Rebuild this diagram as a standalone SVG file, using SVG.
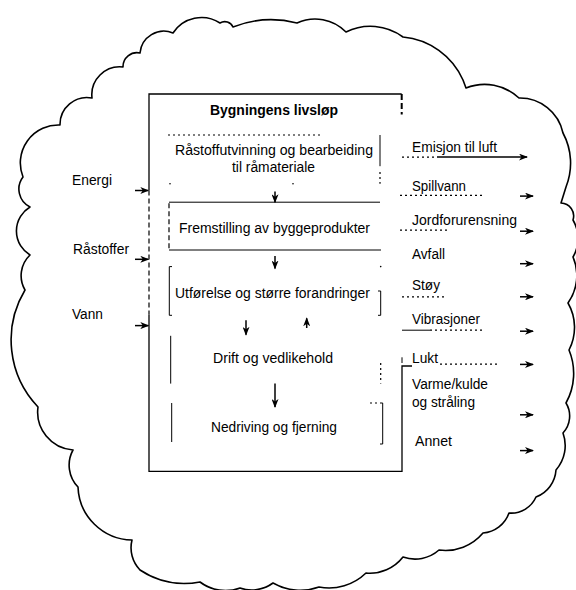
<svg xmlns="http://www.w3.org/2000/svg" width="576" height="590" viewBox="0 0 576 590">
<defs>
<marker id="ah" markerUnits="userSpaceOnUse" markerWidth="9" markerHeight="7" refX="8" refY="3.5" orient="auto">
<path d="M0,0 L9,3.5 L0,7 L2.5,3.5 Z" fill="#000"/>
</marker>
</defs>
<style>
text{font-family:"Liberation Sans",Arial,sans-serif;font-size:14px;fill:#000}
.b{font-weight:bold}
.ln{stroke:#000;stroke-width:1.3;fill:none}
.th{stroke:#000;stroke-width:1;fill:none}
.dt{stroke:#000;stroke-width:1.2;fill:none;stroke-dasharray:2 3}
.ds{stroke:#000;stroke-width:1.2;fill:none;stroke-dasharray:5 3}
.ar{stroke:#000;stroke-width:1.5;fill:none;marker-end:url(#ah)}
.cloud{stroke:#000;stroke-width:1.6;fill:none;stroke-linejoin:round}
</style>
<rect width="576" height="590" fill="#fff"/>
<path class="cloud" d="M30,255 A28,28 0 0 1 30,207 A20,20 0 0 1 23,177 A38,38 0 0 1 60,125 A27,27 0 0 1 92,98 A28,28 0 0 1 123,67 A14,14 0 0 1 140,53 A24,24 0 0 1 173,33 A34,34 0 0 1 220,23 A9,9 0 0 1 233,27 A105,105 0 0 1 297,23 A43,43 0 0 1 346,32 A55,55 0 0 1 403,37 A73,73 0 0 1 463,80 L466,88 A50,50 0 0 1 519,98 A44,44 0 0 1 563,133 A64,64 0 0 1 566,187 L561,203 A13,13 0 0 1 573,220 A37,37 0 0 1 573,257 A47,47 0 0 1 568,303 A49,49 0 0 1 569,350 A61,61 0 0 1 566,403 A25,25 0 0 1 563,433 A37,37 0 0 1 556,470 A31,31 0 0 1 536,497 A27,27 0 0 1 509,513 A30,30 0 0 1 483,533 A49,49 0 0 1 439,550 A36,36 0 0 1 403,557 A42,42 0 0 1 366,573 A53,53 0 0 1 319,587 A55,55 0 0 1 273,583 A36,36 0 0 1 240,588 A42,42 0 0 1 200,582 A80,80 0 0 1 140,570 A32,32 0 0 1 132,540 A55,55 0 0 1 78,487 A31.5,31.5 0 0 1 73,450 A38,38 0 0 1 38,407 A97,97 0 0 1 25,290 A28.5,28.5 0 0 1 30,255 Z"/>

<g id="livslop">
<path class="ln" d="M149,190.5 L149,94 L401.7,94"/>
<path class="ds" d="M149,190.5 L149,314.4"/>
<path class="ln" d="M149,314.4 L149,471.3 L402,471.3 L402,366 L412,366"/>
<path stroke="#000" stroke-width="2" stroke-dasharray="6 3" d="M401.7,94 L401.7,114.5"/>
<text class="b" x="210" y="114.5" textLength="128" lengthAdjust="spacingAndGlyphs">Bygningens livsløp</text>
</g>

<g id="n1">
<path class="dt" d="M168,135 L323,135"/>
<path class="th" d="M380,135 L380,166.2"/>
<path class="dt" d="M380,172 L380,183.7"/>
<circle cx="170" cy="183.7" r="0.8"/>
<circle cx="293" cy="183.7" r="0.8"/>
<text x="175" y="154.5" textLength="198" lengthAdjust="spacingAndGlyphs">Råstoffutvinning og bearbeiding</text>
<text x="232" y="172" textLength="83" lengthAdjust="spacingAndGlyphs">til råmateriale</text>
</g>

<g id="n2">
<path class="th" d="M169,202.2 L380,202.2"/>
<path class="th" d="M169,250 L381,250"/>
<path class="ds" d="M169,203.2 L169,249"/>
<text x="179" y="232.5" textLength="191" lengthAdjust="spacingAndGlyphs">Fremstilling av byggeprodukter</text>
</g>

<g id="n3">
<path class="th" d="M172,266.6 L169.3,266.6 L169.3,315.3 L172,315.3"/>
<path class="th" d="M378,291 L380.7,291 L380.7,315.3 L378,315.3"/>
<circle cx="380.7" cy="266.6" r="0.8"/>
<text x="175" y="297.8" textLength="195" lengthAdjust="spacingAndGlyphs">Utførelse og større forandringer</text>
</g>

<g id="n4">
<path class="th" d="M170.7,335.8 L170.7,383.6"/>
<path class="dt" d="M380.7,363.1 L380.7,383.6"/>
<text x="213" y="363.1" textLength="120" lengthAdjust="spacingAndGlyphs">Drift og vedlikehold</text>
</g>

<g id="n5">
<path class="th" d="M171.7,403 L171.7,442"/>
<path class="dt" d="M370,403 L380,403"/>
<path class="th" d="M380,403 L382.7,403 L382.7,444 L380,444"/>
<text x="211" y="432.3" textLength="126" lengthAdjust="spacingAndGlyphs">Nedriving og fjerning</text>
</g>

<g id="inputs">
<text x="72" y="184.7" textLength="40" lengthAdjust="spacingAndGlyphs">Energi</text>
<text x="73" y="253.9" textLength="56" lengthAdjust="spacingAndGlyphs">Råstoffer</text>
<text x="72" y="319.2" textLength="31" lengthAdjust="spacingAndGlyphs">Vann</text>
</g>

<g id="outputs">
<text x="412" y="151.5" textLength="85" lengthAdjust="spacingAndGlyphs">Emisjon til luft</text>
<text x="412" y="191" textLength="54" lengthAdjust="spacingAndGlyphs">Spillvann</text>
<text x="412" y="225.3" textLength="105" lengthAdjust="spacingAndGlyphs">Jordforurensning</text>
<text x="412" y="258.8" textLength="33" lengthAdjust="spacingAndGlyphs">Avfall</text>
<text x="412" y="290" textLength="28" lengthAdjust="spacingAndGlyphs">Støy</text>
<text x="412" y="323.8" textLength="68" lengthAdjust="spacingAndGlyphs">Vibrasjoner</text>
<text x="412" y="362.8" textLength="26" lengthAdjust="spacingAndGlyphs">Lukt</text>
<text x="412" y="388.5" textLength="76" lengthAdjust="spacingAndGlyphs">Varme/kulde</text>
<text x="412" y="407" textLength="63" lengthAdjust="spacingAndGlyphs">og stråling</text>
<text x="415" y="446" textLength="37" lengthAdjust="spacingAndGlyphs">Annet</text>
<path class="dt" d="M402,157.1 L437,157.1"/>
<path class="dt" d="M400,195.4 L483,195.4"/>
<path class="dt" d="M400,230.2 L447,230.2"/>
<path class="dt" d="M402,296.8 L445,296.8"/>
<path class="th" d="M402,330.2 L430,330.2"/>
<path class="dt" d="M430,330.2 L482,330.2"/>
<path class="th" d="M402,357.3 L402,363"/>
<path class="dt" d="M440,364.1 L497,364.1"/>
</g>

<g id="connectors">
<path class="ar" d="M275,191.5 L275,202.2"/>
<path class="ar" d="M275,255.9 L275,268.5"/>
<path class="ar" d="M246,320.2 L246,334.8"/>
<path class="ar" d="M306.7,328 L306.7,318.3"/>
<path class="ar" d="M275,383.6 L275,407"/>
<path class="ar" d="M135,190.5 L148.3,190.5"/>
<path class="ar" d="M135,259.3 L148.3,259.3"/>
<path class="ar" d="M135,325.6 L148.3,325.6"/>
<path class="ar" d="M437,157.1 L527,157.1"/>
<path class="ar" d="M520,196.1 L533,196.1"/>
<path class="ar" d="M520,231.2 L533,231.2"/>
<path class="ar" d="M520,263.7 L533,263.7"/>
<path class="ar" d="M520,296.8 L533,296.8"/>
<path class="ar" d="M520,331.2 L533,331.2"/>
<path class="ar" d="M520,364.4 L533,364.4"/>
<path class="ar" d="M520,414.8 L533,414.8"/>
<path class="ar" d="M520,450.6 L533,450.6"/>
</g>
</svg>
